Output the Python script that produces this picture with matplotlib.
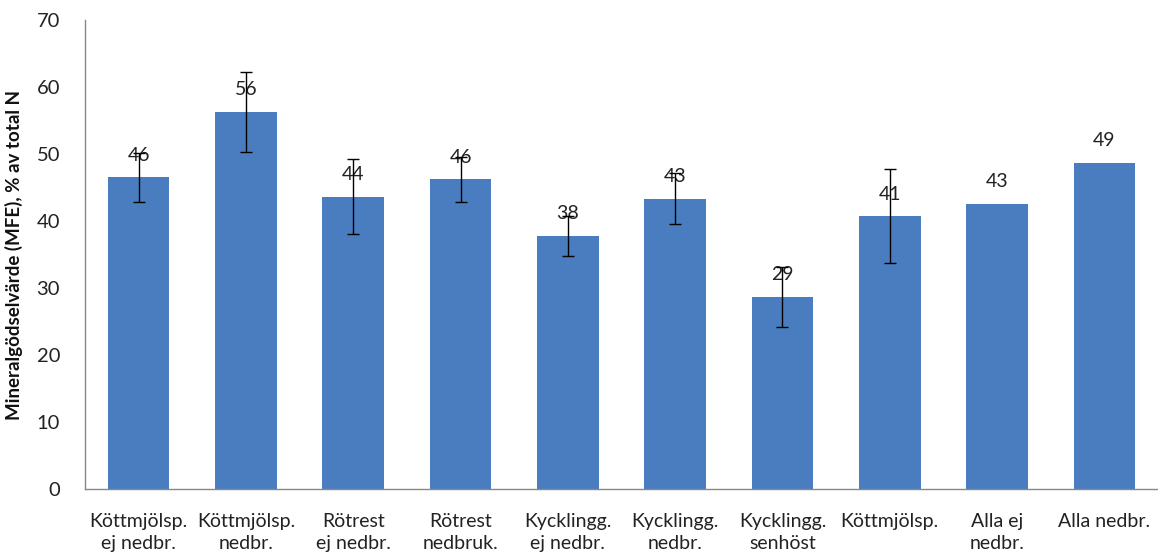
import matplotlib
matplotlib.use("Agg")
import matplotlib.pyplot as plt
import numpy as np

categories = ["Köttmjölsp.\nej nedbr.", "Köttmjölsp.\nnedbr.", "Rötrest\nej nedbr.", "Rötrest\nnedbruk.",
              "Kycklingg.\nej nedbr.", "Kycklingg.\nnedbr.", "Kycklingg.\nsenhöst", "Köttmjölsp.",
              "Alla ej\nnedbr.", "Alla nedbr."]
values = [46.5, 56.3, 43.6, 46.2, 37.8, 43.3, 28.7, 40.7, 42.6, 48.7]
labels = ["46", "56", "44", "46", "38", "43", "29", "41", "43", "49"]
errors = [3.6, 6.0, 5.6, 3.3, 3.0, 3.8, 4.5, 7.0, None, None]
yticks = [0, 10, 20, 30, 40, 50, 60, 70]
ylabel = "Mineralgödselvärde (MFE), % av total N"

plt.rcParams['font.family'] = ['Lato', 'DejaVu Sans']

fig = plt.figure(figsize=(11.58, 5.55), dpi=100)
ax = fig.add_axes([85/1158, 66/555, 1 - 85/1158, 469/555])

x = np.arange(len(categories))
ax.bar(x, values, width=0.575, color='#4A7DC0', zorder=2)

for i, (v, e) in enumerate(zip(values, errors)):
    if e is not None:
        ax.errorbar(x[i], v, yerr=e, fmt='none', ecolor='black', elinewidth=1.0,
                    capsize=4, capthick=1.0, zorder=4)

for i, (v, l) in enumerate(zip(values, labels)):
    ax.annotate(l, (x[i], v), xytext=(0, 16), textcoords='offset points',
                ha='center', va='center', fontsize=14, color='#222222', zorder=3)

ax.set_xlim(-0.5, len(categories) - 0.5)
ax.set_ylim(0, 70)
ax.set_yticks(yticks)
ax.set_xticks(x)
ax.set_xticklabels(categories, fontsize=14, color='#222222', linespacing=1.35)
ax.tick_params(axis='y', length=0, pad=18, labelsize=14.5, labelcolor='#222222')
ax.tick_params(axis='x', length=0, pad=17)
ax.set_ylabel(ylabel, fontsize=13.5, fontweight='bold', color='#111111', labelpad=10)

for s in ['top', 'right']:
    ax.spines[s].set_visible(False)
for s in ['left', 'bottom']:
    ax.spines[s].set_color('#888888')
    ax.spines[s].set_linewidth(1.0)

fig.savefig("out.png", dpi=100)
